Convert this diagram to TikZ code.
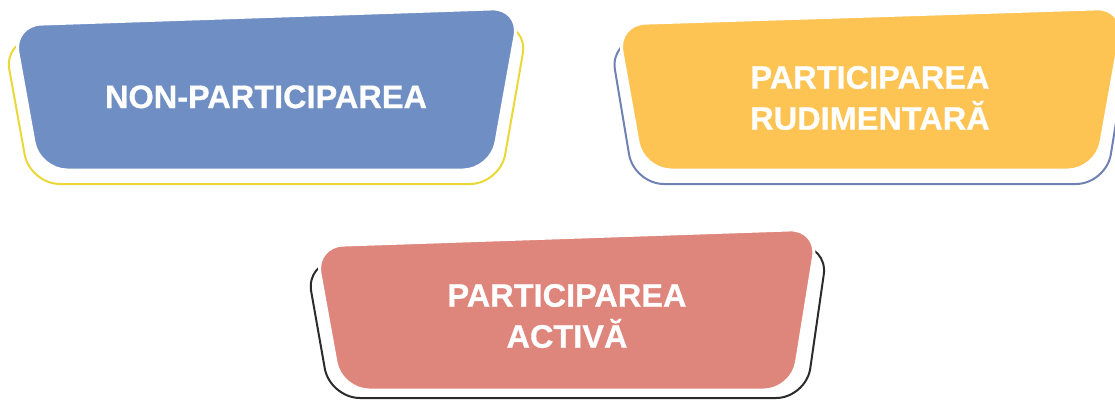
\documentclass[tikz,border=0pt]{standalone}
\usepackage{fontspec}
\setmainfont{Liberation Sans}
\newfontfamily\lblfont{Liberation Sans}[BoldFeatures={FakeBold=0.6}]
\definecolor{bluefill}{HTML}{6F8FC4}
\definecolor{yellowfill}{HTML}{FDC453}
\definecolor{redfill}{HTML}{DE857C}
\definecolor{yellowline}{HTML}{E9D838}
\definecolor{blueline}{HTML}{7082B4}
\definecolor{darkline}{HTML}{2B2B2B}
\begin{document}
\begin{tikzpicture}[x=1pt,y=-1pt,
  card/.style={rounded corners=28pt,draw=white,line width=3pt},
  rim/.style={line width=2pt,rounded corners=30pt},
  lbl/.style={text=white,font=\lblfont\fontsize{32.5}{41}\selectfont\bfseries,align=center,inner sep=0pt}]
\useasboundingbox (0,0) rectangle (1115,400);
% box 1
\draw[rim,yellowline] (4,40) -- (528,24) -- (500,184) -- (30,184) -- cycle;
\filldraw[card,fill=bluefill] (13,25) -- (520,8) -- (491,170) -- (39,170) -- cycle;
\node[lbl,anchor=base] (t1) at (266,108) {NON-PARTICIPAREA};
% box 2
\draw[rim,blueline] (610,40) -- (1132,24) -- (1106,184) -- (634,184) -- cycle;
\filldraw[card,fill=yellowfill] (617,24) -- (1125,8) -- (1096,170) -- (643,170) -- cycle;
\node[lbl] (t2) at (870,98) {PARTICIPAREA\\RUDIMENTARĂ};
% box 3
\draw[rim,darkline] (306,262) -- (828,245) -- (806,398) -- (330,398) -- cycle;
\filldraw[card,fill=redfill] (315,246) -- (818,229) -- (792,390) -- (341,390) -- cycle;
\node[lbl] (t3) at (567,316) {PARTICIPAREA\\ACTIVĂ};
\end{tikzpicture}
\end{document}
